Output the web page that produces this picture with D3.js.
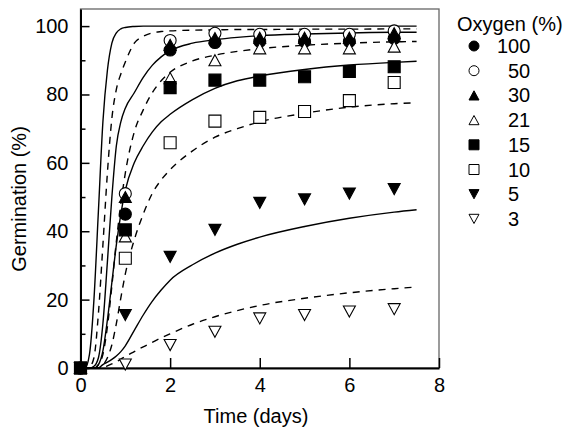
<!DOCTYPE html>
<html>
<head>
<meta charset="utf-8">
<script src="https://cdn.jsdelivr.net/npm/d3@7"></script>
<style>
  html, body { margin: 0; padding: 0; background: #fff; }
  svg { display: block; }
  text { font-family: "Liberation Sans", Arial, Helvetica, sans-serif; fill: #000; }
</style>
</head>
<body>
<svg id="chart" width="571" height="431"></svg>
<script>
// ---------- data ----------
const oxygenLevels = ["100", "50", "30", "21", "15", "10", "5", "3"];
const days = [0, 1, 2, 3, 4, 5, 6, 7];
const germ100 = [0, 45, 93, 95.2, 95.5, 95.5, 95.5, 96.4];
const germ50  = [0, 51, 95.8, 97.9, 97.6, 97.6, 97.6, 98.6];
const germ30  = [0, 50, 94.5, 96.5, 96.6, 96.6, 96.6, 97.9];
const germ21  = [0, 38.5, 84.8, 90, 93.5, 93.5, 93.5, 94];
const germ15  = [0, 40.4, 82, 84.2, 84.2, 85.2, 86.7, 88.1];
const germ10  = [0, 32.1, 65.9, 72.2, 73.3, 75, 78.2, 83.5];
const germ5   = [0, 15.5, 32.5, 40.4, 48.3, 49.3, 51, 52.3];
const germ3   = [0, 1, 6.7, 10.6, 14.5, 15.5, 16.5, 17.2];

// fitted curves
const fitDays  = [0, 0.1, 0.2, 0.3, 0.4, 0.5, 0.6, 0.7, 0.8, 0.9, 1.0, 1.2, 1.4, 1.6, 1.8, 2.0, 2.5, 3.0, 3.5, 4.0, 5.0, 6.0, 7.0, 7.5];
const fit100 = [0, 0, 4, 20, 46, 72, 87, 95, 98, 99.2, 99.6, 99.9, 100, 100, 100, 100, 100, 100, 100, 100, 100, 100, 100, 100];
const fit50  = [0, 0, 0.3, 3, 16, 36, 57, 73, 81.5, 86, 89.5, 95, 97, 98, 98.4, 98.6, 98.8, 98.9, 99, 99, 99.1, 99.1, 99.2, 99.2];
const fit30  = [0, 0, 0, 0.5, 3, 13, 31, 50, 65, 72, 76, 80.5, 85, 88.5, 91, 92.8, 95, 96, 96.7, 97.2, 97.7, 98, 98.2, 98.2];
const fit21  = [0, 0, 0, 0, 1, 4, 12, 24, 37, 48, 57, 69, 75.5, 80.5, 84, 86.5, 89.8, 91.5, 92.6, 93.4, 94.4, 95, 95.4, 95.5];
const fit15  = [0, 0, 0, 0, 1, 5, 14, 25, 36, 45, 52, 60, 65, 69, 72, 74.2, 78.5, 81.8, 84, 85.4, 87.3, 88.6, 89.4, 89.7];
const fit10  = [0, 0, 0, 0, 0, 0.8, 3, 6.8, 13, 20.5, 27.5, 37.5, 45, 51, 55, 58, 63.5, 67.5, 70, 72, 74.5, 76.3, 77.3, 77.6];
const fit5   = [0, 0, 0, 0, 0, 1, 1.7, 2.5, 3.5, 4.8, 6.5, 11, 15.5, 19.5, 22.8, 25.7, 30.2, 33.6, 36.2, 38.3, 41.4, 43.8, 45.6, 46.3];
const fit3   = [0, 0, 0, 0, 0, 0, 0.6, 1.2, 1.8, 2.6, 3.4, 4.8, 6.2, 7.5, 8.8, 10, 12.8, 15, 16.8, 18.3, 20.4, 22, 23.2, 23.7];

const markerShapes = ["circle", "circle", "triangle", "triangle", "square", "square", "down", "down"];
const markerFilled = [true, false, true, false, true, false, true, false];
const lineDashed   = [false, true, false, true, false, true, false, true];

const xTicks = [0, 2, 4, 6, 8];
const yTicks = [0, 10, 20, 30, 40, 50, 60, 70, 80, 90, 100];
const yLabels = [0, 20, 40, 60, 80, 100];

const germSeries = [germ100, germ50, germ30, germ21, germ15, germ10, germ5, germ3];
const fitSeries  = [fit100, fit50, fit30, fit21, fit15, fit10, fit5, fit3];

// ---------- drawing ----------
const svg = d3.select("#chart");
const pLeft = 80.5, pRight = 439, pTop = 9, pBottom = 368;
const x = d3.scaleLinear().domain([0, 8]).range([pLeft, pRight]);
const y = d3.scaleLinear().domain([0, 105]).range([pBottom, pTop]);

function markerPath(shape, s) {
  const h = s / 2;
  if (shape === "circle") {
    return `M${-h},0A${h},${h} 0 1,0 ${h},0A${h},${h} 0 1,0 ${-h},0Z`;
  }
  if (shape === "square") {
    return `M${-h},${-h}L${h},${-h}L${h},${h}L${-h},${h}Z`;
  }
  const th = s * 0.92 / 2;
  if (shape === "triangle") {
    return `M0,${-th}L${h},${th}L${-h},${th}Z`;
  }
  return `M0,${th}L${h},${-th}L${-h},${-th}Z`;
}

// frame (top/right)
svg.append("rect")
  .attr("x", pLeft).attr("y", pTop)
  .attr("width", pRight - pLeft).attr("height", pBottom - pTop)
  .attr("fill", "none").attr("stroke", "#666").attr("stroke-width", 1.3);

// curves
const line = d3.line()
  .x((d, i) => x(fitDays[i]))
  .y(d => y(d))
  .curve(d3.curveMonotoneX);

fitSeries.forEach((s, k) => {
  svg.append("path")
    .attr("d", line(s))
    .attr("fill", "none")
    .attr("stroke", "#000")
    .attr("stroke-width", 1.4)
    .attr("stroke-dasharray", lineDashed[k] ? "7,6" : null);
});

// axes
const yAxis = d3.axisLeft(y)
  .tickValues(yTicks)
  .tickSizeInner(-9)
  .tickSizeOuter(0)
  .tickPadding(12)
  .tickFormat(d => yLabels.includes(d) ? d : "");
const gy = svg.append("g").attr("transform", `translate(${pLeft},0)`).call(yAxis);
gy.selectAll(".tick line")
  .attr("x2", d => yLabels.includes(d) ? 9 : 5)
  .attr("stroke-width", 1.5);
gy.select(".domain").attr("stroke-width", 2);
gy.selectAll("text").attr("font-size", 20).attr("font-family", '"Liberation Sans", Arial, sans-serif').attr("fill", "#000");

const xAxis = d3.axisBottom(x)
  .tickValues(xTicks)
  .tickSizeInner(-10)
  .tickSizeOuter(0)
  .tickPadding(10)
  .tickFormat(d3.format("d"));
const gx = svg.append("g").attr("transform", `translate(0,${pBottom})`).call(xAxis);
gx.selectAll(".tick line").attr("stroke-width", 1.5);
gx.select(".domain").attr("stroke-width", 2);
gx.selectAll("text").attr("font-size", 20).attr("font-family", '"Liberation Sans", Arial, sans-serif').attr("fill", "#000");

// markers (15% drawn last so it sits on top at the origin)
const drawOrder = [0, 1, 2, 3, 5, 6, 7, 4];
drawOrder.forEach(k => {
  svg.append("g").selectAll("path")
    .data(germSeries[k])
    .join("path")
    .attr("transform", (d, i) => `translate(${x(days[i])},${y(d)})`)
    .attr("d", markerPath(markerShapes[k], 12))
    .attr("fill", markerFilled[k] ? "#000" : "#fff")
    .attr("stroke", "#000")
    .attr("stroke-width", 1.1);
});

// axis titles
svg.append("text")
  .attr("x", 256).attr("y", 423)
  .attr("text-anchor", "middle")
  .attr("font-size", 20)
  .text("Time (days)");
svg.append("text")
  .attr("transform", "translate(26,199) rotate(-90)")
  .attr("text-anchor", "middle")
  .attr("font-size", 20)
  .text("Germination (%)");

// legend
const lg = svg.append("g");
lg.append("text").attr("x", 457).attr("y", 30.5).attr("font-size", 20).text("Oxygen (%)");
oxygenLevels.forEach((lab, k) => {
  const cy = 46 + k * 24.7;
  lg.append("path")
    .attr("transform", `translate(474,${cy})`)
    .attr("d", markerPath(markerShapes[k], 10))
    .attr("fill", markerFilled[k] ? "#000" : "#fff")
    .attr("stroke", "#000")
    .attr("stroke-width", 1);
  lg.append("text")
    .attr("x", lab.length === 3 ? 497 : 508)
    .attr("y", cy + 7)
    .attr("font-size", 20)
    .text(lab);
});
</script>
</body>
</html>
